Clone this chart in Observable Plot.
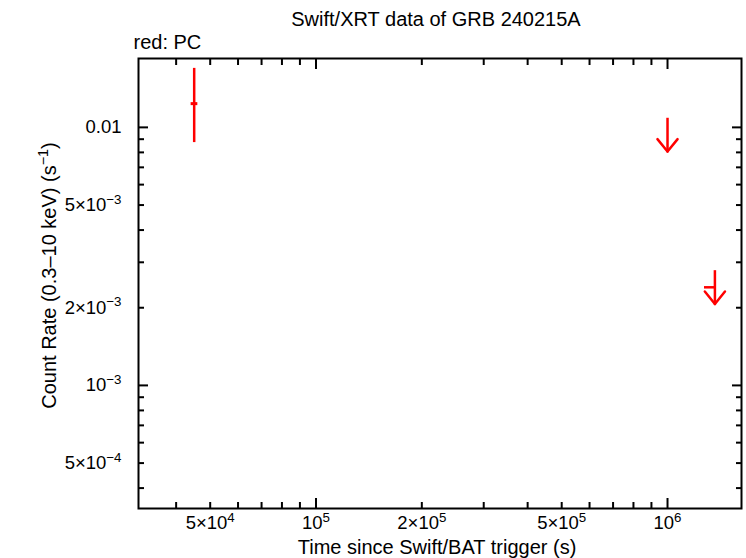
<!DOCTYPE html>
<html>
<head>
<meta charset="utf-8">
<script src="https://cdn.jsdelivr.net/npm/d3@7"></script>
<script src="https://cdn.jsdelivr.net/npm/@observablehq/plot@0.6"></script>
<style>
  html, body { margin: 0; padding: 0; background: #fff; }
</style>
</head>
<body>
<div id="chart"></div>
<script>
// ---- texts ----
const titleText = "Swift/XRT data of GRB 240215A";
const legendText = "red: PC";
const xLabelText = "Time since Swift/BAT trigger (s)";
const yLabelText = "Count Rate (0.3–10 keV) (s⁻¹)";

// ---- PC detections ----
const detTime   = [45020];
const detTimeLo = [44130];
const detTimeHi = [46110];
const detRate   = [0.01236];
const detRateLo = [0.00873];
const detRateHi = [0.01693];

// ---- PC upper limits ----
const ulTime   = [1.0e6, 1.364e6];
const ulTimeLo = [1.0e6, 1.274e6];
const ulTimeHi = [1.0e6, 1.364e6];
const ulRate   = [0.00935, 0.0024];

// ---- axes ----
const xDomain = [31260, 1.6236e6];
const yDomain = [3.334e-4, 0.01849];
const xTickValues = [5e4, 1e5, 2e5, 5e5, 1e6];
const xTickLabels = ["5×10⁴", "10⁵", "2×10⁵", "5×10⁵", "10⁶"];
const xMajorTicks = [1e5, 1e6];
const xMinorTicks = [4e4, 5e4, 6e4, 7e4, 8e4, 9e4, 2e5, 3e5, 4e5, 5e5, 6e5, 7e5, 8e5, 9e5];
const yTickValues = [5e-4, 1e-3, 2e-3, 5e-3, 1e-2];
const yTickLabels = ["5×10⁻⁴", "10⁻³", "2×10⁻³", "5×10⁻³", "0.01"];
const yMajorTicks = [1e-3, 1e-2];
const yMinorTicks = [4e-4, 5e-4, 6e-4, 7e-4, 8e-4, 9e-4, 2e-3, 3e-3, 4e-3, 5e-3, 6e-3, 7e-3, 8e-3, 9e-3];

// tables built from the arrays
const detections = detTime.map((t, i) => ({t, tlo: detTimeLo[i], thi: detTimeHi[i], rate: detRate[i], rlo: detRateLo[i], rhi: detRateHi[i]}));
const upperLimits = ulTime.map((t, i) => ({t, tlo: ulTimeLo[i], thi: ulTimeHi[i], rate: ulRate[i]}));
const xTicks = xTickValues.map((v, i) => ({v, label: xTickLabels[i]}));
const yTicks = yTickValues.map((v, i) => ({v, label: yTickLabels[i]}));

const red = "#ff0000";
const arrowFactor = 1.16;   // half-length of the upper-limit arrow (multiplicative, log axis)
const wing = {draw(context, l) { context.moveTo(0, 0); context.lineTo(0, -l); }};
const font = "'Liberation Sans', Arial, Helvetica, sans-serif";
const tickFs = 18.5;
const labelFs = 20;

const chart = Plot.plot({
  width: 746,
  height: 558,
  marginLeft: 138,
  marginRight: 5,
  marginTop: 58,
  marginBottom: 50,
  style: {fontFamily: font, fontSize: labelFs + "px", background: "#fff", color: "#000"},
  x: {type: "log", domain: xDomain, label: null},
  y: {type: "log", domain: yDomain, label: null},
  marks: [
    // tick marks (inward) on all four sides
    Plot.axisX(xMinorTicks, {anchor: "bottom", tickSize: -6, strokeWidth: 2, fill: "none", label: null}),
    Plot.axisX(xMajorTicks, {anchor: "bottom", tickSize: -10, strokeWidth: 2, fill: "none", label: null}),
    Plot.axisX(xMinorTicks, {anchor: "top", tickSize: -6, strokeWidth: 2, fill: "none", label: null}),
    Plot.axisX(xMajorTicks, {anchor: "top", tickSize: -10, strokeWidth: 2, fill: "none", label: null}),
    Plot.axisY(yMinorTicks, {anchor: "left", tickSize: -6, strokeWidth: 2, fill: "none", label: null}),
    Plot.axisY(yMajorTicks, {anchor: "left", tickSize: -10, strokeWidth: 2, fill: "none", label: null}),
    Plot.axisY(yMinorTicks, {anchor: "right", tickSize: -6, strokeWidth: 2, fill: "none", label: null}),
    Plot.axisY(yMajorTicks, {anchor: "right", tickSize: -10, strokeWidth: 2, fill: "none", label: null}),
    // tick labels
    Plot.text(xTicks, {x: "v", text: "label", frameAnchor: "bottom", lineAnchor: "middle", textAnchor: "middle", dy: 14.5, fontSize: tickFs}),
    Plot.text(yTicks, {y: "v", text: "label", frameAnchor: "left", lineAnchor: "middle", textAnchor: "end", dx: -17, fontSize: tickFs}),
    // frame
    Plot.frame({stroke: "#000", strokeWidth: 2}),
    // detections
    Plot.ruleX(detections, {x: "t", y1: "rlo", y2: "rhi", stroke: red, strokeWidth: 2.5}),
    Plot.ruleY(detections, {y: "rate", x1: "tlo", x2: "thi", stroke: red, strokeWidth: 3}),
    // upper limits
    Plot.ruleY(upperLimits, {y: "rate", x1: "tlo", x2: "thi", stroke: red, strokeWidth: 2.5}),
    Plot.ruleX(upperLimits, {x: "t", y1: d => d.rate * arrowFactor, y2: d => d.rate / arrowFactor, stroke: red, strokeWidth: 2.5}),
    Plot.vector(upperLimits, {x: "t", y: d => d.rate / arrowFactor, length: 16, rotate: -39, anchor: "start", shape: wing, stroke: red, strokeWidth: 2.5}),
    Plot.vector(upperLimits, {x: "t", y: d => d.rate / arrowFactor, length: 16, rotate: 39, anchor: "start", shape: wing, stroke: red, strokeWidth: 2.5}),
    // texts
    Plot.text([titleText], {text: d => d, frameAnchor: "top", lineAnchor: "middle", textAnchor: "middle", dy: -39, dx: -4, fontSize: labelFs}),
    Plot.text([legendText], {text: d => d, frameAnchor: "top-left", lineAnchor: "middle", textAnchor: "start", dx: -5, dy: -16, fontSize: labelFs}),
    Plot.text([xLabelText], {text: d => d, frameAnchor: "bottom", lineAnchor: "middle", textAnchor: "middle", dy: 39, dx: -3, fontSize: labelFs}),
    Plot.text([yLabelText], {text: d => d, frameAnchor: "left", lineAnchor: "middle", textAnchor: "middle", rotate: -90, dx: -89, dy: -8, fontSize: labelFs})
  ]
});
document.getElementById("chart").appendChild(chart);

// Render Unicode superscripts as raised, smaller tspans (still real text)
const supMap = {"⁰":"0","¹":"1","²":"2","³":"3","⁴":"4","⁵":"5","⁶":"6","⁷":"7","⁸":"8","⁹":"9","⁻":"−"};
chart.querySelectorAll("text").forEach(t => {
  const s = t.textContent;
  const chars = [...s];
  if (!chars.some(c => c in supMap)) return;
  const fsz = parseFloat(getComputedStyle(t).fontSize) || tickFs;
  const runs = [];
  for (const c of chars) {
    const sup = c in supMap;
    const ch = sup ? supMap[c] : c;
    if (runs.length && runs[runs.length - 1].sup === sup) runs[runs.length - 1].text += ch;
    else runs.push({sup, text: ch});
  }
  while (t.firstChild) t.removeChild(t.firstChild);
  const shift = 0.4 * fsz;
  let raised = false;
  for (const r of runs) {
    const ts = document.createElementNS("http://www.w3.org/2000/svg", "tspan");
    ts.textContent = r.text;
    if (r.sup) {
      ts.setAttribute("font-size", (0.72 * fsz).toFixed(2));
      ts.setAttribute("dy", (-shift).toFixed(2));
      raised = true;
    } else if (raised) {
      ts.setAttribute("dy", shift.toFixed(2));
      raised = false;
    }
    t.appendChild(ts);
  }
});
</script>
</body>
</html>
